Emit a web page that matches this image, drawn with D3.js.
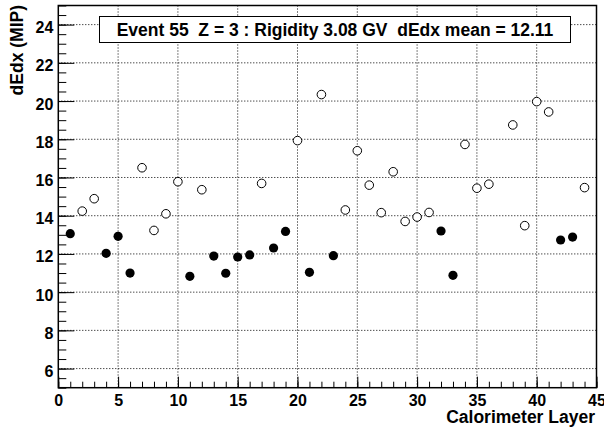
<!DOCTYPE html>
<html>
<head>
<meta charset="utf-8">
<script src="https://cdn.jsdelivr.net/npm/d3@7"></script>
<style>
    body { margin: 0; background: #fff; }
    svg text { font-family: "Liberation Sans", Arial, sans-serif; font-weight: bold; }
</style>
</head>
<body>
<script>
// Layers with a filled marker
var filledLayer = [1, 4, 5, 6, 11, 13, 14, 15, 16, 18, 19, 21, 23, 32, 33, 42, 43];
var filledDedx = [13.06, 12.03, 12.92, 11.0, 10.83, 11.89, 10.99, 11.84, 11.95, 12.31, 13.18, 11.04, 11.91, 13.2, 10.88, 12.73, 12.88];

// Layers with an open marker
var openLayer = [2, 3, 7, 8, 9, 10, 12, 17, 20, 22, 24, 25, 26, 27, 28, 29, 30, 31, 34, 35, 36, 38, 39, 40, 41, 44];
var openDedx = [14.24, 14.89, 16.51, 13.23, 14.1, 15.78, 15.36, 15.69, 17.93, 20.34, 14.3, 17.4, 15.6, 14.16, 16.3, 13.7, 13.93, 14.17, 17.73, 15.44, 15.65, 18.75, 13.48, 19.97, 19.43, 15.47];

var xTicks = [0, 5, 10, 15, 20, 25, 30, 35, 40, 45];
var yTicks = [6, 8, 10, 12, 14, 16, 18, 20, 22, 24];
var titleText = "Event 55  Z = 3 : Rigidity 3.08 GV  dEdx mean = 12.11";

var W = 604, H = 430;
var pLeft = 58.3, pRight = 596.5, pTop = 5.5, pBottom = 387.7;

var x = d3.scaleLinear().domain([0, 45]).range([pLeft, pRight]);
var y = d3.scaleLinear().domain([5, 25]).range([pBottom, pTop]);

var svg = d3.select("body").append("svg")
    .attr("width", W)
    .attr("height", H);

// grid
svg.append("g")
    .selectAll("line")
    .data(xTicks.slice(1, -1))
    .enter().append("line")
    .attr("x1", d => x(d)).attr("x2", d => x(d))
    .attr("y1", pTop).attr("y2", pBottom)
    .attr("stroke", "#000").attr("stroke-width", 1)
    .attr("stroke-dasharray", "1,2");
svg.append("g")
    .selectAll("line")
    .data(yTicks)
    .enter().append("line")
    .attr("x1", pLeft).attr("x2", pRight)
    .attr("y1", d => y(d)).attr("y2", d => y(d))
    .attr("stroke", "#000").attr("stroke-width", 1)
    .attr("stroke-dasharray", "1,2");

// ticks
var xMinor = d3.range(0, 46, 1);
var yMinor = d3.range(5, 25.01, 0.5);

var gx = svg.append("g").attr("transform", "translate(0," + pBottom + ")");
gx.call(d3.axisBottom(x).tickValues(xMinor).tickSize(-6).tickFormat(""));
gx.append("g").call(d3.axisBottom(x).tickValues(xTicks).tickSize(-11).tickPadding(7).tickFormat(d3.format("d")));

var gy = svg.append("g").attr("transform", "translate(" + pLeft + ",0)");
gy.call(d3.axisLeft(y).tickValues(yMinor).tickSize(-8).tickFormat(""));
gy.append("g").call(d3.axisLeft(y).tickValues(yTicks).tickSize(-16).tickPadding(5).tickFormat(d3.format("d")));
gy.selectAll(".tick text").attr("dy", "0.5em");

svg.selectAll(".domain").remove();
svg.selectAll(".tick line").attr("stroke", "#000").attr("stroke-width", 1);
svg.selectAll(".tick text")
    .attr("font-size", 16)
    .attr("font-family", "Liberation Sans, Arial, sans-serif")
    .attr("font-weight", "bold")
    .attr("fill", "#000");

// frame
svg.append("rect")
    .attr("x", pLeft).attr("y", pTop)
    .attr("width", pRight - pLeft).attr("height", pBottom - pTop)
    .attr("fill", "none")
    .attr("stroke", "#000")
    .attr("stroke-width", 1.5);

// title box
svg.append("rect")
    .attr("x", 99.5).attr("y", 16.5)
    .attr("width", 471).attr("height", 26)
    .attr("fill", "#fff")
    .attr("stroke", "#000")
    .attr("stroke-width", 1);
svg.append("text")
    .attr("x", 335).attr("y", 36)
    .attr("text-anchor", "middle")
    .attr("font-size", 17.5)
    .style("white-space", "pre")
    .text(titleText);

// points
svg.append("g")
    .selectAll("circle")
    .data(openLayer.map((l, i) => [l, openDedx[i]]))
    .enter().append("circle")
    .attr("cx", d => x(d[0]))
    .attr("cy", d => y(d[1]))
    .attr("r", 4.3)
    .attr("fill", "#fff")
    .attr("stroke", "#000")
    .attr("stroke-width", 1);

svg.append("g")
    .selectAll("circle")
    .data(filledLayer.map((l, i) => [l, filledDedx[i]]))
    .enter().append("circle")
    .attr("cx", d => x(d[0]))
    .attr("cy", d => y(d[1]))
    .attr("r", 4.6)
    .attr("fill", "#000");

// axis titles
svg.append("text")
    .attr("x", 595).attr("y", 423)
    .attr("text-anchor", "end")
    .attr("font-size", 17.5)
    .text("Calorimeter Layer");

svg.append("text")
    .attr("transform", "translate(23,5) rotate(-90)")
    .attr("text-anchor", "end")
    .attr("font-size", 17.5)
    .text("dEdx (MIP)");
</script>
</body>
</html>
